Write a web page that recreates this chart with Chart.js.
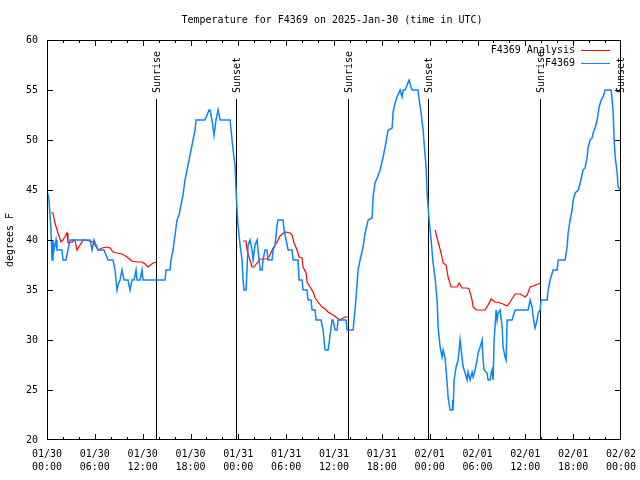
<!DOCTYPE html>
<html>
<head>
<meta charset="utf-8">
<script src="https://cdn.jsdelivr.net/npm/chart.js@4.4.1/dist/chart.umd.min.js"></script>
<style>
  html, body { margin: 0; padding: 0; background: #fff; }
</style>
</head>
<body>
<canvas id="chart" width="640" height="480"></canvas>
<script>
// hours since 01/30 00:00 UTC, temperature (F)
const obsReadings = [
  [0,45],[0.25,44],[0.5,41],[0.63,38],[0.75,40],[0.88,39],[1.13,40],[1.25,39],[1.88,39],[2.01,38],
  [2.38,38],[2.63,39],[2.89,40],[3.26,40],[5.4,40],[5.65,39],[5.9,40],[6.15,39.5],[6.4,39],[7.15,39],
  [7.65,38],[8.28,38],[8.53,37],[8.78,35],[8.91,35.5],[9.16,36],[9.41,37],[9.66,36],[10.16,36],[10.41,35],
  [10.66,36],[10.92,36],[11.17,37],[11.29,36],[11.67,36],[11.92,37],[12.05,36],[14.81,36],[14.93,37],[15.43,37],
  [15.56,38],[15.81,39],[16.06,40.5],[16.31,42],[16.56,42.5],[16.81,43.5],[17.06,44.5],[17.31,46],[17.57,47],[17.82,48],
  [18.07,49],[18.32,50],[18.57,51],[18.7,52],[19.82,52],[20.08,52.5],[20.33,53],[20.45,53],[20.7,52],[20.95,50.5],
  [21.2,52],[21.46,53],[21.71,52],[22.96,52],[23.09,51],[23.34,49],[23.59,47.5],[23.71,45],[23.84,43],[23.96,41.5],
  [24.22,39.5],[24.47,38],[24.59,36],[24.72,35],[24.97,35],[25.09,37],[25.22,39.5],[25.47,40],[25.72,39],[25.85,38],
  [26.1,39.5],[26.35,40],[26.47,39],[26.73,37],[26.98,37],[27.1,38],[27.35,39],[27.6,39],[27.73,38],[28.23,38],
  [28.36,39],[28.61,39.5],[28.86,41.5],[28.98,42],[29.61,42],[29.74,41],[29.99,40],[30.24,39],[30.74,39],[30.87,38],
  [31.49,38],[31.62,36],[31.99,36],[32.12,35],[32.62,35],[32.75,34],[33.12,34],[33.25,33],[33.63,33],[33.75,32],
  [34.38,32],[34.63,31],[34.88,29],[35.26,29],[35.51,30.5],[35.76,32],[35.88,32],[36.14,31],[36.39,31],[36.51,32],
  [37.52,32],[37.64,31],[38.39,31],[38.64,33],[38.89,35.5],[39.02,37],[39.27,38],[39.65,39.3],[39.9,40.7],[40.28,42],
  [40.78,42.2],[40.9,44.3],[41.15,45.7],[41.41,46.2],[41.78,47],[42.16,48.3],[42.41,49.3],[42.79,51],[43.29,51.2],[43.41,52.8],
  [43.66,53.7],[43.91,54.3],[44.29,55],[44.54,54.3],[44.67,55],[44.92,55],[45.17,55.5],[45.42,56],[45.67,55.3],[45.8,55],
  [46.55,55],[46.68,54],[46.93,52.7],[47.18,51],[47.3,49.7],[47.55,47.3],[47.68,44.7],[47.93,42],[48.18,40],[48.43,37.7],
  [48.68,36.2],[48.93,34],[49.06,31.3],[49.31,29.3],[49.56,28.3],[49.69,29],[49.94,28.2],[50.19,25.7],[50.31,24.3],[50.56,23],
  [50.81,23],[50.88,24],[50.94,23],[51.07,26],[51.32,27.3],[51.57,28],[51.82,30],[52.07,28.2],[52.2,27.3],[52.45,26.7],
  [52.7,26],[52.82,26.8],[53.07,26],[53.32,26.8],[53.45,26.3],[53.7,27],[53.95,28],[54.08,28.7],[54.33,29.3],[54.58,30],
  [54.7,28],[54.83,27],[55.2,26.7],[55.33,26],[55.58,26],[55.71,26.7],[55.83,27],[55.96,26],[56.08,30],[56.34,33],
  [56.46,32],[56.59,32.7],[56.84,33],[57.09,31.3],[57.21,29.3],[57.46,28.3],[57.59,28],[57.72,32],[58.34,32],[58.72,33],
  [60.35,33],[60.6,34],[60.85,33.3],[60.98,32.3],[61.23,31.2],[61.48,32],[61.61,32.7],[61.86,33],[61.98,34],[62.74,34],
  [62.86,35],[63.11,36],[63.49,37],[63.99,37],[64.12,38],[64.99,38],[65.24,39.3],[65.37,40.7],[65.62,42],[65.87,43],
  [66,44],[66.25,44.7],[66.63,45],[66.88,45.7],[67.25,47],[67.5,47.2],[67.76,48.3],[67.88,49.3],[68.13,50],[68.38,50.2],
  [68.51,50.7],[68.76,51.2],[69.01,52],[69.26,53.3],[69.51,54],[69.76,54.3],[70.01,55],[70.77,55],[70.89,54],[71.02,52.7],
  [71.14,50],[71.27,48.3],[71.52,46.7],[71.64,45.3],[71.9,45]
];

// analysis only covers the nights; null breaks the line
const anaReadings = [
  [0.5,42.7],[0.75,42.7],[1,41.7],[1.38,40.7],[1.76,39.8],[2.01,40],[2.51,40.7],[2.63,39.7],[3.14,39.8],[3.26,40],
  [3.51,40],[3.76,39],[4.14,39.5],[4.52,40],[5.4,39.9],[5.77,39.8],[6.02,39.5],[6.4,39],[6.9,39.2],[7.53,39.3],
  [7.9,39.2],[8.28,38.8],[8.78,38.7],[9.41,38.6],[10.04,38.3],[10.66,37.9],[11.29,37.8],[11.92,37.8],[12.3,37.6],[12.67,37.3],
  [13.3,37.7],[13.8,37.8],
  [18,null],
  [24.59,39.9],[24.97,39.9],[25.09,39],[25.35,38.3],[25.72,37.3],[25.97,37.3],[26.35,37.7],[26.73,38.1],[27.6,38.1],[27.85,38.3],
  [28.36,39.2],[28.86,39.8],[29.23,40.4],[29.86,40.8],[30.49,40.7],[30.74,40.5],[30.99,39.7],[31.37,39],[31.62,38.3],[31.99,38.2],
  [32.12,37.3],[32.5,36.7],[32.62,35.8],[33,35.3],[33.38,34.8],[33.63,34.2],[34,33.8],[34.5,33.3],[34.88,33.1],[35.26,32.8],
  [35.88,32.5],[36.39,32.2],[36.76,32],[37.14,32.2],[37.39,32.3],[37.77,32.3],
  [42,null],
  [48.68,41],[49.06,39.8],[49.43,38.7],[49.69,37.7],[50.06,37.5],[50.31,36.3],[50.69,35.3],[51.44,35.3],[51.69,35.7],[52.07,35.2],
  [52.7,35.2],[52.95,35.1],[53.32,34],[53.45,33.3],[53.83,33],[54.96,33],[55.33,33.5],[55.71,34.1],[56.21,33.8],[56.84,33.7],
  [57.21,33.6],[57.72,33.4],[58.09,33.8],[58.72,34.6],[59.35,34.6],[59.97,34.3],[60.23,34.5],[60.6,35.3],[60.98,35.4],[61.61,35.6],
  [61.86,35.7]
];

const sunHours = [13.7, 23.72, 37.77, 47.8, 61.86, 71.88];
const sunLabels = ['Sunrise', 'Sunset', 'Sunrise', 'Sunset', 'Sunrise', 'Sunset'];
const dayLabels = ['01/30', '01/31', '02/01', '02/02'];
const titleText = 'Temperature for F4369 on 2025-Jan-30 (time in UTC)';

const FAMILY = '"DejaVu Sans Mono", "Liberation Mono", monospace';
const FONT = '10px ' + FAMILY;

// box, inward ticks, sunrise/sunset markers, legend, title
const frame = {
  id: 'frame',
  beforeDatasetsDraw(chart){
    const {ctx, chartArea: a, scales: {x}} = chart;
    ctx.save();
    ctx.strokeStyle = '#000';
    ctx.lineWidth = 1;
    ctx.font = FONT;
    ctx.fillStyle = '#000';
    sunHours.forEach((h, i)=>{
      const px = Math.round(x.getPixelForValue(h)) + 0.5;
      ctx.beginPath();
      ctx.moveTo(px, a.top + 59);
      ctx.lineTo(px, a.bottom);
      ctx.stroke();
      ctx.save();
      ctx.translate(px + 1, a.top + 53);
      ctx.rotate(-Math.PI/2);
      ctx.textAlign = 'left';
      ctx.textBaseline = 'middle';
      ctx.fillText(sunLabels[i], 0, 0);
      ctx.restore();
    });
    ctx.restore();
  },
  afterDatasetsDraw(chart){
    const {ctx, chartArea: a, scales: {x, y}} = chart;
    ctx.save();
    ctx.strokeStyle = '#000';
    ctx.lineWidth = 1;
    ctx.strokeRect(a.left + 0.5, a.top + 0.5, a.right - a.left - 1, a.bottom - a.top - 1);

    ctx.beginPath();
    for(let h = 2; h < 72; h += 2){
      const px = Math.round(x.getPixelForValue(h)) + 0.5;
      const len = h % 6 === 0 ? 6 : 3;
      ctx.moveTo(px, a.bottom); ctx.lineTo(px, a.bottom - len);
      ctx.moveTo(px, a.top); ctx.lineTo(px, a.top + len);
    }
    for(let v = 25; v < 60; v += 5){
      const py = Math.round(y.getPixelForValue(v)) + 0.5;
      ctx.moveTo(a.left, py); ctx.lineTo(a.left + 6, py);
      ctx.moveTo(a.right, py); ctx.lineTo(a.right - 6, py);
    }
    ctx.stroke();

    // legend
    ctx.font = FONT;
    ctx.fillStyle = '#000';
    ctx.textAlign = 'right';
    ctx.textBaseline = 'middle';
    chart.data.datasets.forEach((ds, i)=>{
      const ly = a.top + 10 + i * 13;
      ctx.fillText(ds.label, a.right - 46, ly);
      ctx.strokeStyle = ds.borderColor;
      ctx.lineWidth = 1;
      ctx.beginPath();
      ctx.moveTo(a.right - 40, ly + 0.5);
      ctx.lineTo(a.right - 11, ly + 0.5);
      ctx.stroke();
    });

    // title
    ctx.textAlign = 'center';
    ctx.fillText(titleText, (a.left + a.right)/2 - 2, 20);
    ctx.restore();
  }
};

new Chart(document.getElementById('chart'), {
  type: 'line',
  data: {
    datasets: [
      {
        label: 'F4369 Analysis',
        data: anaReadings.map(([h, t])=>({x: h, y: t})),
        borderColor: '#ff0000',
        borderWidth: 1.2,
        pointRadius: 0,
        spanGaps: false,
        order: 1
      },
      {
        label: 'F4369',
        data: obsReadings.map(([h, t])=>({x: h, y: t})),
        borderColor: '#0a84ff',
        borderWidth: 1.5,
        pointRadius: 0,
        order: 0
      }
    ]
  },
  options: {
    responsive: false,
    animation: false,
    devicePixelRatio: 1,
    layout: {padding: {top: 40, right: 19, left: 0, bottom: 0}},
    elements: {line: {tension: 0}},
    plugins: {
      legend: {display: false},
      tooltip: {enabled: false},
      title: {display: false}
    },
    scales: {
      x: {
        type: 'linear',
        min: 0,
        max: 72,
        grid: {display: false, drawTicks: false},
        border: {display: false},
        ticks: {
          stepSize: 6,
          autoSkip: false,
          maxRotation: 0,
          padding: 8,
          color: '#000',
          font: {family: FAMILY, size: 10, lineHeight: 1.3},
          callback: (v)=>{
            const hh = v % 24;
            return [dayLabels[Math.floor(v/24)], String(hh).padStart(2, '0') + ':00'];
          }
        },
        afterFit(s){
          s.height = 40;
          // labels may hang past the box edges, as in the reference
          s.paddingLeft = 0;
          s.paddingRight = 0;
        }
      },
      y: {
        min: 20,
        max: 60,
        grid: {display: false, drawTicks: false},
        border: {display: false},
        ticks: {
          stepSize: 5,
          padding: 9,
          color: '#000',
          font: {family: FAMILY, size: 10}
        },
        title: {
          display: true,
          text: 'degrees F',
          color: '#000',
          font: {family: FAMILY, size: 10},
          padding: {top: 4, bottom: 0}
        },
        afterFit(s){ s.width = 47; }
      }
    }
  },
  plugins: [frame]
});
</script>
</body>
</html>
